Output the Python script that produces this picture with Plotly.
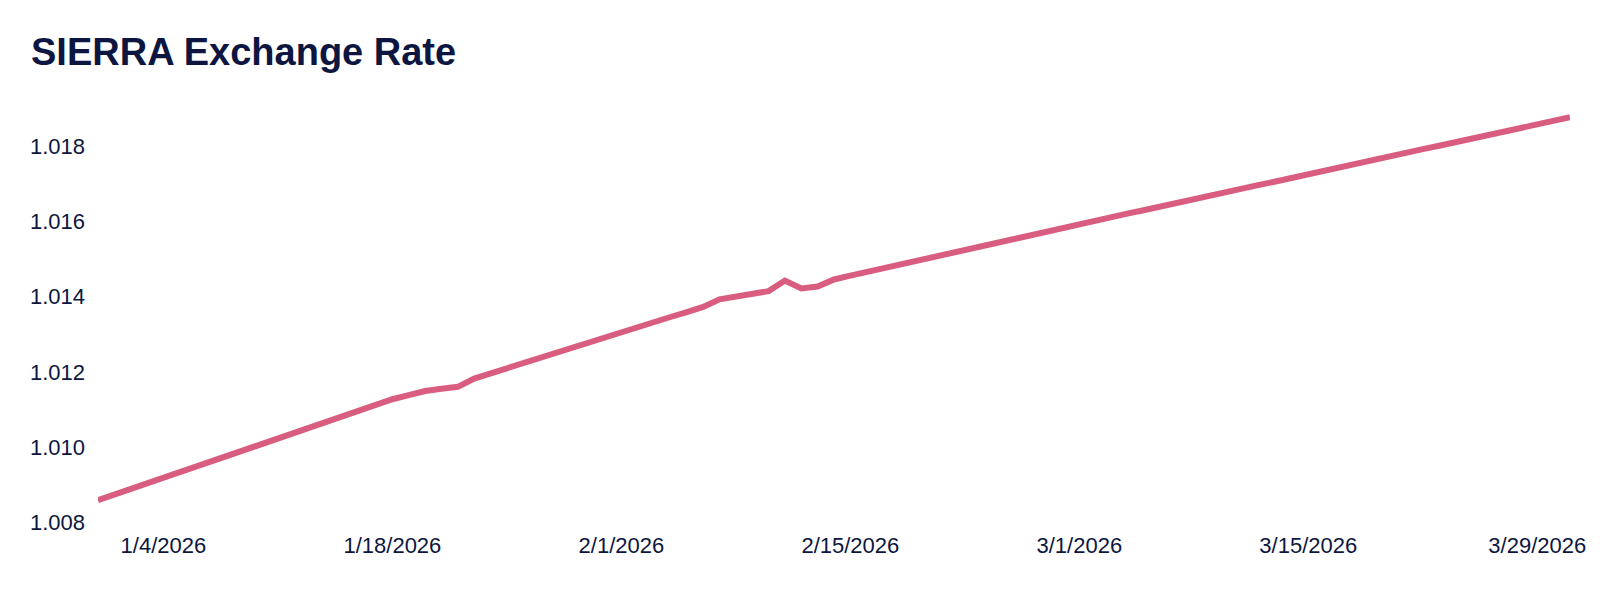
import pandas as pd
import plotly.graph_objects as go

start_date = "2025-12-31"
end_date = "2026-03-31"
rates = [
    1.00858, 1.00873, 1.00888, 1.00903, 1.00918, 1.00933, 1.00948, 1.00963, 1.00977, 1.00992,
    1.01007, 1.01022, 1.01037, 1.01052, 1.01067, 1.01082, 1.01097, 1.01112, 1.01127, 1.01138,
    1.01149, 1.01155, 1.01160, 1.01182, 1.01196, 1.01210, 1.01223, 1.01237, 1.01250, 1.01264,
    1.01278, 1.01291, 1.01305, 1.01318, 1.01332, 1.01346, 1.01359, 1.01373, 1.01393, 1.01400,
    1.01408, 1.01415, 1.01443, 1.01422, 1.01427, 1.01446, 1.01456, 1.01466, 1.01476, 1.01485,
    1.01495, 1.01505, 1.01515, 1.01525, 1.01535, 1.01545, 1.01555, 1.01564, 1.01574, 1.01583,
    1.01593, 1.01602, 1.01612, 1.01622, 1.01631, 1.01641, 1.01650, 1.01660, 1.01669, 1.01679,
    1.01688, 1.01698, 1.01707, 1.01717, 1.01726, 1.01736, 1.01745, 1.01755, 1.01764, 1.01774,
    1.01783, 1.01793, 1.01802, 1.01812, 1.01821, 1.01831, 1.01840, 1.01850, 1.01859, 1.01869,
    1.01878,
]
dates = pd.date_range(start_date, end_date, freq="D")
title_text = "SIERRA Exchange Rate"
tick_dates = ["2026-01-04", "2026-01-18", "2026-02-01", "2026-02-15", "2026-03-01", "2026-03-15", "2026-03-29"]
tick_labels = ["1/4/2026", "1/18/2026", "2/1/2026", "2/15/2026", "3/1/2026", "3/15/2026", "3/29/2026"]
y_ticks = [1.008, 1.010, 1.012, 1.014, 1.016, 1.018]

navy = "#0d1640"
fig = go.Figure(
    go.Scatter(
        x=dates, y=rates, mode="lines",
        line=dict(color="#d95d7e", width=6),
        hoverinfo="x+y",
    )
)
fig.update_layout(
    width=1600, height=589,
    margin=dict(l=90, r=38, t=101, b=75),
    paper_bgcolor="white", plot_bgcolor="white",
    font=dict(family="Liberation Sans, Arial, sans-serif", size=22, color=navy),
    title=dict(
        text="<b>" + title_text + "</b>",
        font=dict(size=38, color=navy, family="Liberation Sans, Arial, sans-serif"),
        x=23 / 1600, xanchor="left", xref="container",
        y=1 - 44 / 589, yanchor="middle", yref="container",
    ),
    showlegend=False,
)
fig.update_xaxes(
    range=[start_date, end_date],
    tickvals=tick_dates, ticktext=tick_labels,
    showgrid=False, zeroline=False, showline=False, ticks="",
    ticklabelstandoff=8,
)
fig.update_yaxes(
    range=[1.008, 1.019],
    tickvals=y_ticks, tickformat=".3f",
    showgrid=False, zeroline=False, showline=False, ticks="",
    ticklabelstandoff=12,
)
fig.write_html("out.html")
